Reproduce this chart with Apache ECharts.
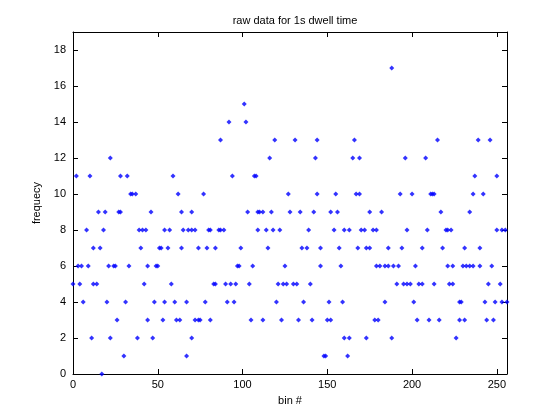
<!DOCTYPE html>
<html>
<head>
<meta charset="utf-8">
<script src="https://cdn.jsdelivr.net/npm/echarts@6/dist/echarts.min.js"></script>
<style>html,body{margin:0;padding:0;background:#fff;}#c{width:560px;height:420px;}</style>
</head>
<body>
<div id="c"></div>
<script>
var titleText = 'raw data for 1s dwell time';
var xLabel = 'bin #';
var yLabel = 'frequecy';
var xTicks = [0, 50, 100, 150, 200, 250];
var yTicks = [0, 2, 4, 6, 8, 10, 12, 14, 16, 18];

var binX = [
 0,2,3,4,5,6,8,9,10,11,12,12,14,15,16,17,18,19,20,21,22,22,24,25,26,27,28,28,30,31,32,33,34,35,
 37,38,39,40,41,42,43,44,44,46,47,48,49,50,51,52,53,54,54,56,57,58,59,60,61,62,63,64,64,65,67,68,67,70,70,70,72,
 72,74,74,75,77,78,79,80,81,81,83,84,84,86,87,87,89,90,91,92,93,94,95,96,97,98,99,101,102,103,104,105,106,107,108,109,109,
 110,112,112,114,115,116,117,118,119,120,121,122,123,124,125,126,127,128,130,131,132,133,134,135,136,138,139,140,141,142,143,144,144,146,146,
 148,149,150,151,152,152,154,155,156,157,158,159,160,160,162,163,163,165,166,167,168,169,169,170,172,173,173,175,175,177,178,179,179,180,181,182,
 184,184,186,186,188,188,189,191,192,193,194,195,196,197,197,199,200,201,202,203,204,206,206,208,209,210,211,212,213,213,215,216,217,218,220,
 221,223,221,224,222,224,226,228,228,229,230,231,231,232,234,234,236,236,237,239,240,240,242,243,244,245,246,247,248,249,250,250,252,253,253,255,256
];
var freq = [
 5,11,6,5,6,4,8,6,11,2,5,7,5,9,7,0,8,9,4,6,2,12,6,6,3,9,9,11,1,4,11,6,10,10,
 10,2,8,7,8,5,8,3,6,9,2,4,6,6,7,7,3,4,8,7,8,5,11,4,3,10,3,9,7,8,4,8,1,8,9,2,8,
 3,7,3,3,10,4,7,8,3,8,5,7,5,8,13,8,8,5,4,14,5,11,4,5,6,6,7,15,14,9,5,3,6,11,11,9,8,
 9,9,3,8,7,12,9,8,13,4,5,8,3,5,6,5,10,9,5,13,5,3,9,7,4,7,8,5,3,9,12,10,13,7,6,
 1,1,3,4,9,3,8,10,9,7,6,4,2,8,1,8,2,12,13,10,7,12,10,8,8,7,2,7,9,8,3,8,6,3,6,9,
 6,4,7,6,17,2,6,5,6,10,7,5,12,8,5,5,10,4,6,3,5,7,5,12,8,3,10,10,5,10,13,3,9,7,8,
 8,8,6,6,5,5,2,4,3,4,6,3,7,6,6,9,10,6,11,13,7,6,10,4,3,5,13,6,3,4,11,8,5,8,4,8,4
];

var pts = binX.map(function (x, i) { return [x, freq[i]]; });
var font = '"Liberation Sans", Arial, Helvetica, sans-serif';
var chart = echarts.init(document.getElementById('c'), null, {renderer: 'canvas'});
function axisCommon() {
  return {
    axisLine: {show: true, onZero: false, lineStyle: {color: '#000', width: 1}},
    axisTick: {show: true, inside: true, length: 5, lineStyle: {color: '#000'}},
    splitLine: {show: false}
  };
}
chart.setOption({
  animation: false,
  backgroundColor: '#ffffff',
  title: {
    text: titleText, left: 290, top: 10, textAlign: 'center',
    textStyle: {fontFamily: font, fontSize: 11, fontWeight: 'normal', color: '#000'}
  },
  grid: {left: 73, right: 53, top: 32, bottom: 46, containLabel: false},
  xAxis: [
    Object.assign({
      type: 'value', min: xTicks[0], max: 256, interval: 50, position: 'bottom',
      name: xLabel, nameLocation: 'middle', nameGap: 21,
      nameTextStyle: {fontFamily: font, fontSize: 11, color: '#000'},
      axisLabel: {show: true, margin: 5, color: '#000', fontFamily: font, fontSize: 11, showMaxLabel: false,
        formatter: function (v) { return xTicks.indexOf(v) >= 0 ? String(v) : ''; }}
    }, axisCommon()),
    Object.assign({
      type: 'value', min: xTicks[0], max: 256, interval: 50, position: 'top',
      axisLabel: {show: false}
    }, axisCommon())
  ],
  yAxis: [
    Object.assign({
      type: 'value', min: yTicks[0], max: 19, interval: 2, position: 'left',
      name: yLabel, nameLocation: 'middle', nameGap: 27, nameRotate: 90,
      nameTextStyle: {fontFamily: font, fontSize: 11, color: '#000'},
      axisLabel: {show: true, margin: 7, color: '#000', fontFamily: font, fontSize: 11, showMaxLabel: false,
        formatter: function (v) { return yTicks.indexOf(v) >= 0 ? String(v) : ''; }}
    }, axisCommon()),
    Object.assign({
      type: 'value', min: yTicks[0], max: 19, interval: 2, position: 'right',
      axisLabel: {show: false}
    }, axisCommon())
  ],
  series: [{
    type: 'scatter',
    xAxisIndex: 0, yAxisIndex: 0,
    data: pts,
    symbol: 'diamond',
    symbolSize: 5,
    itemStyle: {color: '#0000ff'},
    clip: false
  }]
});
</script>
</body>
</html>
